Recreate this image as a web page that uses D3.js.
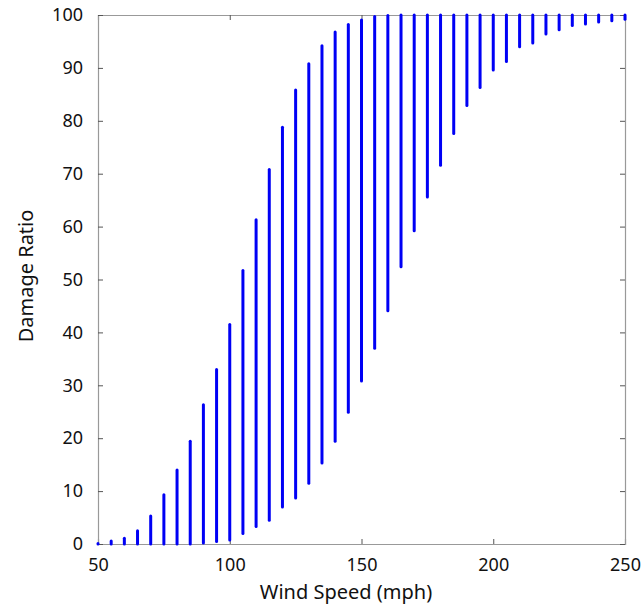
<!DOCTYPE html>
<html>
<head>
<meta charset="utf-8">
<script src="https://cdn.jsdelivr.net/npm/d3@7"></script>
<style>
  body { margin: 0; background: #fff; }
  text { font-family: 'Noto Sans', sans-serif; fill: #111; }
</style>
</head>
<body>
<div id="root"></div>
<script>
// wind speed bins and the observed damage ratio range in each bin
const windSpeeds = [50, 55, 60, 65, 70, 75, 80, 85, 90, 95, 100, 105, 110, 115, 120, 125, 130, 135, 140, 145,
  150, 155, 160, 165, 170, 175, 180, 185, 190, 195, 200, 205, 210, 215, 220, 225, 230, 235, 240, 245, 250];
const damageMin = [0, 0, 0, 0, 0, 0, 0, 0, 0.2, 0.45, 0.75, 2.0, 3.3, 4.5, 7.0, 8.7, 11.5, 15.3, 19.4, 24.9,
  30.8, 37.0, 44.1, 52.4, 59.2, 65.6, 71.6, 77.6, 82.9, 86.3, 89.6, 91.2, 94.0, 94.7, 96.4, 97.2, 98.0, 98.3, 98.7, 98.9, 99.2];
const damageMax = [0.1, 0.55, 1.1, 2.5, 5.3, 9.3, 14.0, 19.4, 26.3, 33.0, 41.5, 51.7, 61.3, 70.8, 78.8, 85.8, 90.8, 94.2, 96.8, 98.2,
  99.05, 99.7, 99.9, 100, 100, 100, 100, 100, 100, 100, 100, 100, 100, 100, 100, 100, 100, 100, 100, 100, 100];
const xTicks = [50, 100, 150, 200, 250];
const yTicks = [0, 10, 20, 30, 40, 50, 60, 70, 80, 90, 100];

const columns = windSpeeds.map((w, i) => ({ wind: w, lo: damageMin[i], hi: damageMax[i] }));

const dimensions = {
  width: 642,
  height: 607,
  margin: { top: 15, right: 17, bottom: 63, left: 98 },
};
dimensions.boundedWidth = dimensions.width - dimensions.margin.left - dimensions.margin.right;
dimensions.boundedHeight = dimensions.height - dimensions.margin.top - dimensions.margin.bottom;

const xScale = d3.scaleLinear().domain([50, 250]).range([0, dimensions.boundedWidth]);
const yScale = d3.scaleLinear().domain([0, 100]).range([dimensions.boundedHeight, 0]);

const wrapper = d3.select('#root')
  .append('svg')
  .attr('width', dimensions.width)
  .attr('height', dimensions.height);

const bounds = wrapper.append('g')
  .attr('transform', `translate(${dimensions.margin.left},${dimensions.margin.top})`);

const frameColor = '#999';
const tickLen = 5;

// mirrored inward ticks on all four sides
const axes = [
  { gen: d3.axisBottom(xScale).tickValues(xTicks).tickSize(-tickLen).tickPadding(14), y: dimensions.boundedHeight, x: 0, labels: true },
  { gen: d3.axisTop(xScale).tickValues(xTicks).tickSize(-tickLen), y: 0, x: 0, labels: false },
  { gen: d3.axisLeft(yScale).tickValues(yTicks).tickSize(-tickLen).tickPadding(15), y: 0, x: 0, labels: true },
  { gen: d3.axisRight(yScale).tickValues(yTicks).tickSize(-tickLen), y: 0, x: dimensions.boundedWidth, labels: false },
];

axes.forEach(a => {
  const g = bounds.append('g')
    .attr('transform', `translate(${a.x},${a.y})`)
    .call(a.gen);
  g.select('.domain').attr('stroke', frameColor).attr('stroke-width', 1.2);
  g.selectAll('.tick line').attr('stroke', '#555');
  if (a.labels) {
    g.selectAll('.tick text').attr('font-size', 18).attr('font-family', "'Noto Sans', sans-serif").attr('fill', '#111');
  } else {
    g.selectAll('.tick text').remove();
  }
});

// data columns
const markColor = '#0000f5';
bounds.append('g')
  .selectAll('line')
  .data(columns)
  .join('line')
  .attr('x1', d => xScale(d.wind))
  .attr('x2', d => xScale(d.wind))
  .attr('y1', d => yScale(d.lo))
  .attr('y2', d => yScale(d.hi))
  .attr('stroke', markColor)
  .attr('stroke-width', 3)
  .attr('stroke-linecap', 'round');

wrapper.append('text')
  .attr('x', 346)
  .attr('y', 599)
  .attr('text-anchor', 'middle')
  .attr('font-size', 20)
  .text('Wind Speed (mph)');

wrapper.append('text')
  .attr('transform', 'translate(33,276) rotate(-90)')
  .attr('text-anchor', 'middle')
  .attr('font-size', 20)
  .text('Damage Ratio');
</script>
</body>
</html>
